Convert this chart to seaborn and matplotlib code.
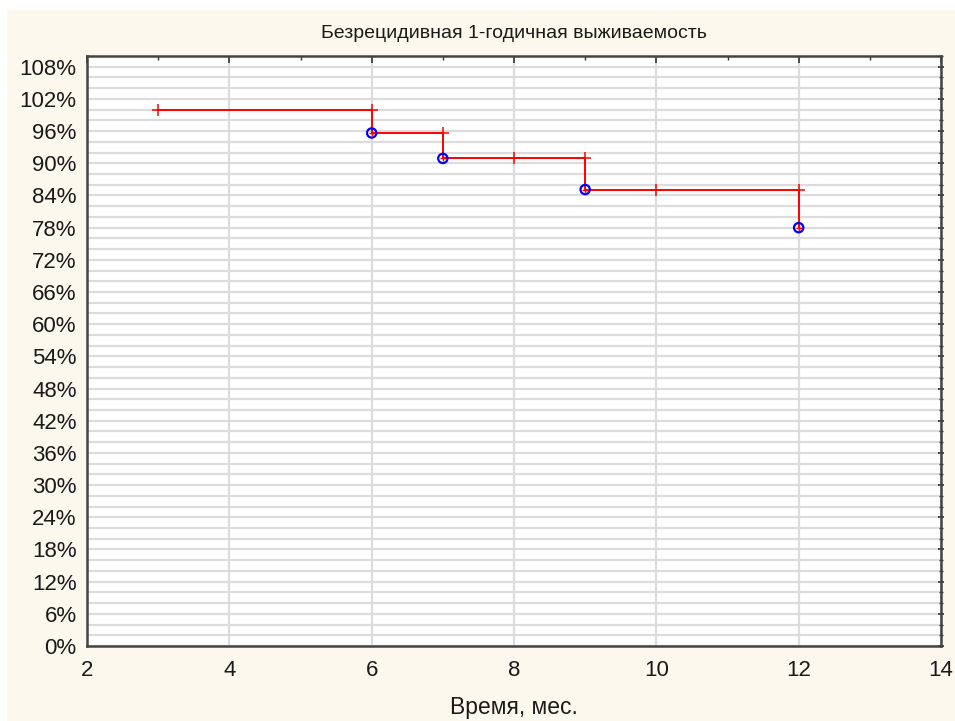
import numpy as np
import pandas as pd
import matplotlib
matplotlib.use("Agg")
import matplotlib.pyplot as plt
from matplotlib.patches import Rectangle
from matplotlib.ticker import MultipleLocator, FuncFormatter
import seaborn as sns

# ==============================================================================
# DATA
# ==============================================================================
time_steps = [3, 6, 7, 9, 12]
surv_steps = [100.0, 95.65, 90.9, 85.1, 78.0]

event_time = [6, 7, 9, 12]
event_surv = [95.65, 90.9, 85.1, 78.0]

censor_time = [3, 6, 7, 8, 9, 10, 12]
censor_surv = [100.0, 100.0, 95.65, 90.9, 90.9, 85.1, 85.1]

title_text = "Безрецидивная 1-годичная выживаемость"
xlabel_text = "Время, мес."

# ==============================================================================
# FIGURE
# ==============================================================================
sns.set_style("white")
plt.rcParams['font.family'] = ['Liberation Sans', 'DejaVu Sans']

fig = plt.figure(figsize=(9.55, 7.21), dpi=100, facecolor="white")
fig.patches.append(Rectangle((7 / 955, 0), 1, 1 - 10 / 721, transform=fig.transFigure,
                             facecolor="#fdf8ee", edgecolor="none", zorder=-10))
ax = fig.add_axes([87 / 955, 1 - 646 / 721, (941 - 87) / 955, (646 - 56) / 721])
ax.set_facecolor("white")

# step survival curve
sns.lineplot(x=time_steps, y=surv_steps, drawstyle="steps-post", color="#ff0000",
             linewidth=1.4, ax=ax, sort=False, zorder=3)

# censored marks
sns.scatterplot(x=censor_time, y=censor_surv, marker="+", color="#ff0000", s=80,
                linewidth=1.1, ax=ax, zorder=4)

# events
sns.scatterplot(x=event_time, y=event_surv, marker="o", facecolors="none",
                edgecolor="#0000ff", s=45, linewidth=1.6, ax=ax, zorder=5)
sns.scatterplot(x=event_time, y=event_surv, marker="+", color="#ff0000", s=25,
                linewidth=1.0, ax=ax, zorder=6)

ax.set_xlim(2, 14)
ax.set_ylim(0, 110)

ax.xaxis.set_major_locator(MultipleLocator(2))
ax.xaxis.set_minor_locator(MultipleLocator(1))
ax.yaxis.set_major_locator(MultipleLocator(6))
ax.yaxis.set_minor_locator(MultipleLocator(2))
ax.yaxis.set_major_formatter(FuncFormatter(lambda v, p: f"{v:.0f}%"))

ax.grid(True, which="major", axis="x", color="#dcdcdc", linewidth=1.6, zorder=0)
ax.grid(True, which="both", axis="y", color="#dcdcdc", linewidth=1.6, zorder=0)
ax.set_axisbelow(True)

ax.tick_params(which="major", direction="in", length=5, width=1.2, color="#333333",
               top=True, right=True, labelsize=16, pad=5, labelcolor="#1a1a1a")
ax.tick_params(which="minor", direction="in", length=3, width=1.0, color="#333333",
               top=True, right=True)
ax.tick_params(axis="y", which="both", direction="inout")
ax.tick_params(axis="x", which="major", pad=10)

for sp in ax.spines.values():
    sp.set_visible(True)
    sp.set_color("#444444")
    sp.set_linewidth(1.8)

ax.set_title(title_text, fontsize=14, pad=13, color="#1a1a1a")
ax.set_xlabel(xlabel_text, fontsize=16.5, labelpad=11, color="#1a1a1a")
ax.set_ylabel("")

fig.savefig("out.png", dpi=100, facecolor=fig.get_facecolor())
plt.close(fig)
